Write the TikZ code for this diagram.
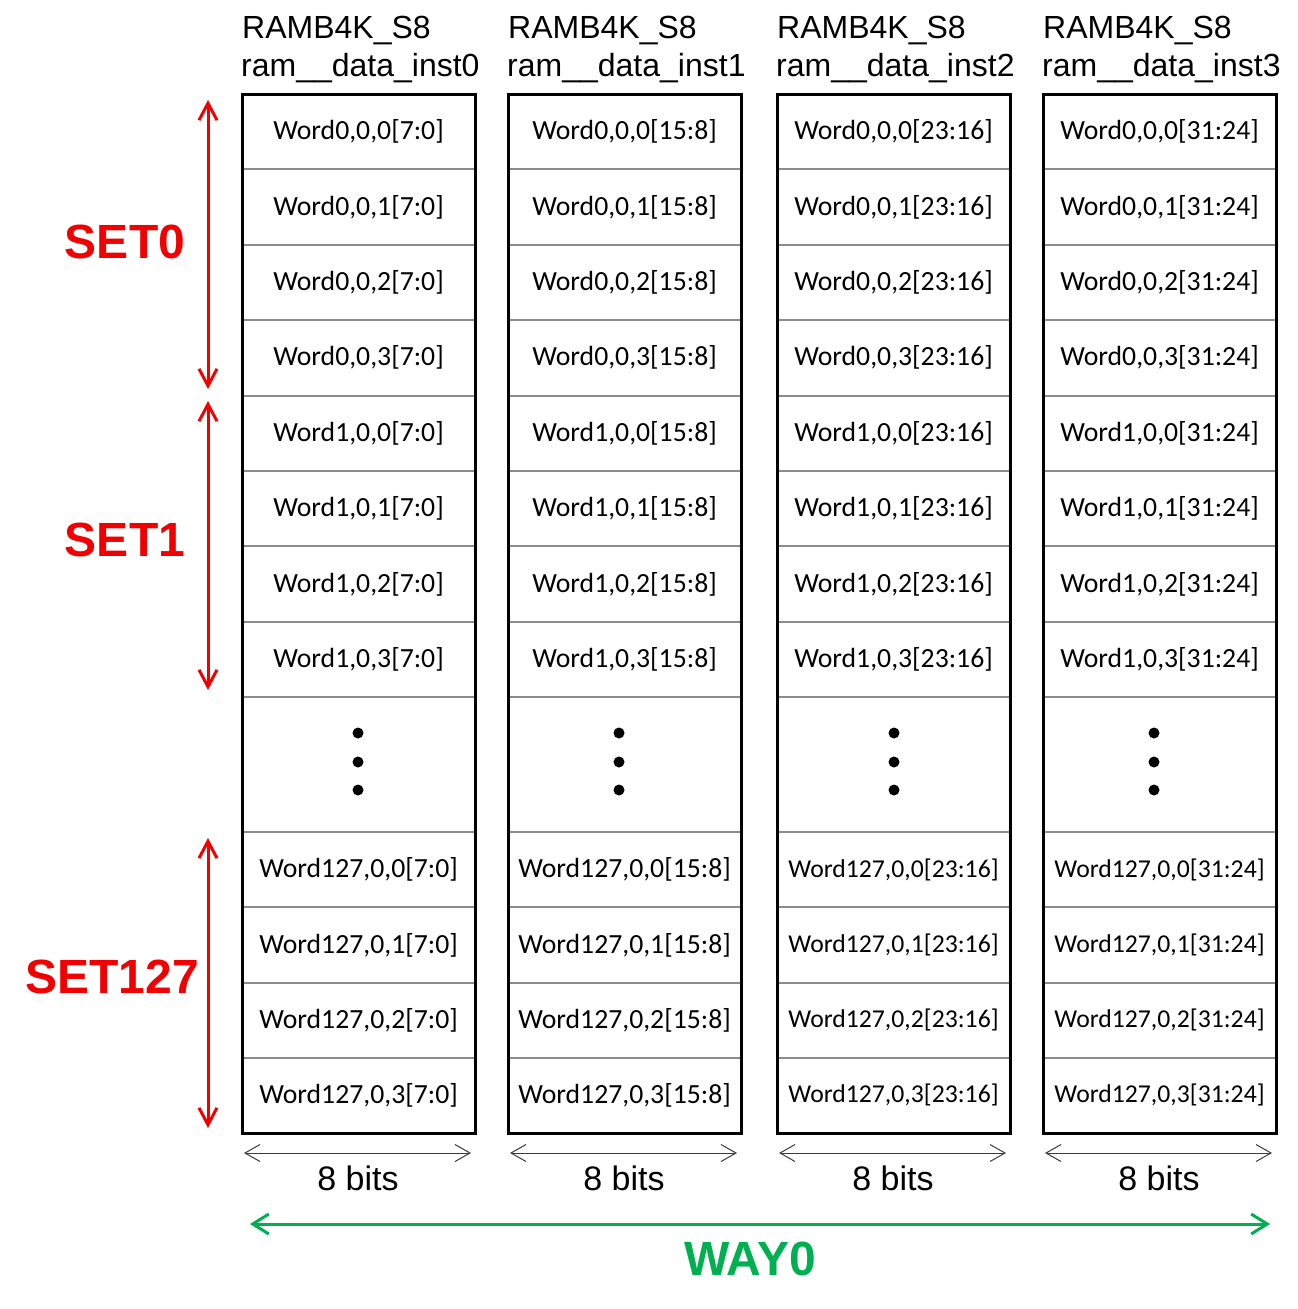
\documentclass[tikz,border=0pt]{standalone}
\usepackage{fontspec}
\setmainfont{Liberation Sans}
\newfontfamily\cellfont{Carlito}
\usetikzlibrary{arrows.meta}
\definecolor{setred}{RGB}{240,0,0}
\definecolor{waygreen}{RGB}{0,176,80}
\definecolor{divgray}{RGB}{140,140,140}
\definecolor{bitgray}{RGB}{60,60,60}
\begin{document}
\begin{tikzpicture}[x=1pt,y=-1pt,
  cell/.style={draw=divgray, line width=2pt, minimum width=233pt, minimum height=75.4pt,
    inner sep=0pt, outer sep=0pt, anchor=north west, font=\cellfont\fontsize{27.7}{30}\selectfont},
  colframe/.style={draw=black, line width=3pt, minimum width=233pt, minimum height=1039pt,
    inner sep=0pt, outer sep=0pt, anchor=north west},
  title/.style={anchor=base west, inner sep=0pt, font=\fontsize{32}{36}\selectfont},
  bitslabel/.style={anchor=base, inner sep=0pt, font=\fontsize{34}{38}\selectfont},
  bitsarrow/.style={draw=bitgray, line width=1pt, {Straight Barb[length=15pt,width=17pt]}-{Straight Barb[length=15pt,width=17pt]}},
  setarrow/.style={draw=setred, line width=3pt, {Straight Barb[length=17pt,width=18pt]}-{Straight Barb[length=17pt,width=18pt]}},
  wayarrow/.style={draw=waygreen, line width=3pt, {Straight Barb[length=16pt,width=20pt]}-{Straight Barb[length=16pt,width=20pt]}},
  setlabel/.style={text=setred, inner sep=0pt, font=\bfseries\fontsize{48}{52}\selectfont},
  waylabel/.style={text=waygreen, anchor=base, inner sep=0pt, font=\bfseries\fontsize{48}{52}\selectfont},
  dot/.style={fill=black, circle, inner sep=0pt, minimum size=11pt}
]
\useasboundingbox (0,0) rectangle (1298,1309);

\foreach \c/\x/\b/\bs/\dx in {0/242/7:0/27.7/358, 1/508/15:8/27.7/619, 2/777/23:16/25.7/894, 3/1043/31:24/25.7/1154} {
  % titles
  \node[title] (t\c-1) at (\x, 38) {RAMB4K\_S8};
  \node[title] (t\c-2) at ({\x-1}, 76) {ram\_\_data\_inst\c};
  % upper rows
  \foreach \r in {0,...,7} {
    \pgfmathtruncatemacro\setn{int(\r/4)}
    \pgfmathtruncatemacro\wn{mod(\r,4)}
    \node[cell] (c\c-\r) at (\x, {94+\r*75.375}) {Word\setn,0,\wn[\b]};
  }
  % dots cell
  \node[cell, minimum height=135pt] (c\c-dots) at (\x, 697) {};
  \node[dot] (d\c-1) at (\dx, 733) {};
  \node[dot] (d\c-2) at (\dx, 762) {};
  \node[dot] (d\c-3) at (\dx, 790) {};
  % bottom rows
  \foreach \r in {0,...,3} {
    \node[cell, font=\cellfont\fontsize{\bs}{30}\selectfont] (c\c-b\r) at (\x, {832+\r*75.25}) {Word127,0,\r[\b]};
  }
  % frame
  \node[colframe] (col\c) at (\x, 94) {};
  % bits
  \coordinate (b\c-L) at ({\x+2}, 1153);
  \coordinate (b\c-R) at ({\x+229}, 1153);
  \draw[bitsarrow] (b\c-L) -- (b\c-R);
  \node[bitslabel] (bl\c) at ({\x+116}, 1190) {8 bits};
}

% SET arrows
\coordinate (s0t) at (208, 100);
\coordinate (s0b) at (208, 389);
\coordinate (s1t) at (208, 401);
\coordinate (s1b) at (208, 690);
\coordinate (s2t) at (208, 838);
\coordinate (s2b) at (208, 1128);
\draw[setarrow] (s0t) -- (s0b);
\draw[setarrow] (s1t) -- (s1b);
\draw[setarrow] (s2t) -- (s2b);
\node[setlabel] (set0) at (125, 242) {SET0};
\node[setlabel] (set1) at (125, 540) {SET1};
\node[setlabel] (set127) at (112, 977) {SET127};

% WAY arrow
\coordinate (wL) at (250, 1224);
\coordinate (wR) at (1270, 1224);
\draw[wayarrow] (wL) -- (wR);
\node[waylabel] (way0) at (750, 1275) {WAY0};
\end{tikzpicture}
\end{document}
